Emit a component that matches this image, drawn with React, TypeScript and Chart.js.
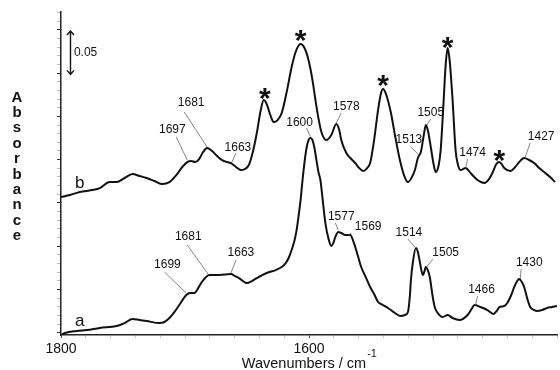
import React, { useEffect, useRef } from 'react';
import { Chart, registerables } from 'chart.js';

Chart.register(...registerables);

const FONT = '"Liberation Sans", Arial, Helvetica, sans-serif';

// ---- axis ranges / ticks ----
const xMin = 1400;
const xMax = 1800;
const xStep = 20;
const xLabeled = [1800, 1600];
const yMin = -0.0025;
const yMax = 0.3705;
const yStep = 0.01;
const yMajor = 0.05;

// ---- spectrum b (upper) ----
const bWn = [1800.0, 1792.8, 1784.8, 1775.2, 1768.7, 1760.7, 1755.1, 1748.7, 1742.3, 1736.7, 1731.1, 1724.6, 1718.2, 1712.6, 1707.0, 1702.2, 1698.2, 1695.0, 1691.8, 1688.6, 1685.4, 1682.2, 1678.2, 1674.1, 1670.1, 1666.1, 1662.9, 1658.9, 1654.9, 1651.7, 1648.5, 1645.3, 1642.1, 1638.9, 1636.5, 1634.1, 1630.9, 1628.5, 1625.3, 1622.0, 1618.0, 1614.0, 1610.8, 1606.8, 1603.6, 1600.4, 1597.2, 1594.8, 1592.4, 1590.0, 1586.0, 1582.0, 1578.0, 1575.6, 1574.0, 1569.9, 1566.7, 1562.7, 1559.5, 1556.3, 1553.1, 1550.7, 1547.5, 1544.3, 1541.9, 1540.3, 1537.9, 1533.9, 1530.7, 1526.7, 1523.4, 1520.2, 1517.0, 1514.6, 1512.2, 1509.8, 1507.4, 1505.8, 1504.2, 1501.8, 1499.4, 1497.8, 1495.4, 1493.8, 1491.4, 1489.8, 1488.2, 1486.6, 1484.2, 1481.8, 1480.2, 1477.8, 1473.7, 1469.7, 1464.1, 1458.5, 1455.3, 1452.1, 1448.9, 1446.5, 1444.1, 1442.5, 1437.7, 1433.7, 1430.5, 1426.5, 1422.4, 1418.4, 1414.4, 1410.4, 1405.6, 1401.6];
const bAbs = [0.1568, 0.1591, 0.1626, 0.1649, 0.1672, 0.1741, 0.1741, 0.1788, 0.1834, 0.1811, 0.1788, 0.1753, 0.1718, 0.1741, 0.1822, 0.1915, 0.1972, 0.1984, 0.1972, 0.2007, 0.2088, 0.2134, 0.2099, 0.2042, 0.1995, 0.1972, 0.1961, 0.1915, 0.1880, 0.1892, 0.1938, 0.2088, 0.2307, 0.2573, 0.2688, 0.2642, 0.2504, 0.2434, 0.2457, 0.2538, 0.2781, 0.3069, 0.3243, 0.3335, 0.3289, 0.3150, 0.2919, 0.2688, 0.2480, 0.2319, 0.2226, 0.2284, 0.2411, 0.2342, 0.2226, 0.2076, 0.2019, 0.1961, 0.1903, 0.1869, 0.1903, 0.1961, 0.2226, 0.2573, 0.2769, 0.2816, 0.2758, 0.2538, 0.2284, 0.1995, 0.1822, 0.1741, 0.1799, 0.1880, 0.2019, 0.2088, 0.2284, 0.2400, 0.2342, 0.2146, 0.1938, 0.1857, 0.1938, 0.2111, 0.2688, 0.3092, 0.3289, 0.3150, 0.2688, 0.2111, 0.1961, 0.1880, 0.1903, 0.1845, 0.1765, 0.1730, 0.1765, 0.1845, 0.1949, 0.1972, 0.1938, 0.1903, 0.1869, 0.1915, 0.1972, 0.2019, 0.1995, 0.1961, 0.1903, 0.1857, 0.1799, 0.1741];

// ---- spectrum a (lower) ----
const aWn = [1800.0, 1796.8, 1787.2, 1779.2, 1768.7, 1755.1, 1748.7, 1742.3, 1736.7, 1731.1, 1720.6, 1716.6, 1712.6, 1708.6, 1704.6, 1699.0, 1695.8, 1692.6, 1687.0, 1683.8, 1680.6, 1672.5, 1662.9, 1659.7, 1656.5, 1650.1, 1646.1, 1642.1, 1634.1, 1626.9, 1622.0, 1618.8, 1616.4, 1614.0, 1611.6, 1610.0, 1608.4, 1606.8, 1605.2, 1603.6, 1602.0, 1600.4, 1598.8, 1597.2, 1595.6, 1594.0, 1592.4, 1590.8, 1589.2, 1586.8, 1584.4, 1582.0, 1580.4, 1578.8, 1576.4, 1574.0, 1570.7, 1568.3, 1566.7, 1564.3, 1562.7, 1560.3, 1557.9, 1553.9, 1550.7, 1547.5, 1544.3, 1540.3, 1536.3, 1530.7, 1525.9, 1522.6, 1520.2, 1518.6, 1517.8, 1516.2, 1513.8, 1512.2, 1510.6, 1508.2, 1506.6, 1505.8, 1504.2, 1502.6, 1500.2, 1498.6, 1496.2, 1492.2, 1488.2, 1484.2, 1478.6, 1472.1, 1468.9, 1466.5, 1461.7, 1456.1, 1451.3, 1448.1, 1446.5, 1442.5, 1440.1, 1436.9, 1434.5, 1432.1, 1430.5, 1428.9, 1426.5, 1424.1, 1421.6, 1418.4, 1416.0, 1412.0, 1408.0, 1404.0, 1400.0];
const aAbs = [-0.0025, -0.0002, 0.0021, 0.0032, 0.0056, 0.0079, 0.0113, 0.0160, 0.0148, 0.0137, 0.0113, 0.0125, 0.0171, 0.0240, 0.0321, 0.0437, 0.0460, 0.0460, 0.0575, 0.0633, 0.0668, 0.0668, 0.0679, 0.0656, 0.0633, 0.0575, 0.0598, 0.0633, 0.0691, 0.0725, 0.0760, 0.0806, 0.0864, 0.0956, 0.1072, 0.1187, 0.1349, 0.1533, 0.1765, 0.1972, 0.2134, 0.2226, 0.2249, 0.2226, 0.2134, 0.1995, 0.1857, 0.1765, 0.1568, 0.1268, 0.1095, 0.1002, 0.1037, 0.1106, 0.1164, 0.1153, 0.1130, 0.1130, 0.1130, 0.1060, 0.0991, 0.0875, 0.0760, 0.0633, 0.0529, 0.0448, 0.0356, 0.0321, 0.0287, 0.0229, 0.0194, 0.0206, 0.0240, 0.0437, 0.0610, 0.0818, 0.0979, 0.0933, 0.0818, 0.0668, 0.0725, 0.0760, 0.0725, 0.0645, 0.0414, 0.0298, 0.0229, 0.0183, 0.0206, 0.0171, 0.0148, 0.0206, 0.0275, 0.0321, 0.0298, 0.0263, 0.0217, 0.0263, 0.0298, 0.0310, 0.0344, 0.0437, 0.0529, 0.0598, 0.0621, 0.0598, 0.0529, 0.0402, 0.0298, 0.0263, 0.0252, 0.0263, 0.0287, 0.0298, 0.0310];

// ---- peak annotations (text anchor and leader line, in wavenumber / absorbance) ----
const peakLabels = ['1697', '1681', '1663', '1578', '1513', '1505', '1474', '1427', '1699', '1681', '1663', '1600', '1577', '1569', '1514', '1505', '1466', '1430'];
const peakTextWn = [1710.2, 1695.0, 1657.3, 1569.9, 1519.4, 1501.8, 1468.1, 1412.8, 1714.2, 1697.4, 1654.9, 1607.6, 1574.0, 1552.3, 1519.4, 1489.8, 1460.9, 1422.4];
const peakTextAbs = [0.2342, 0.2654, 0.2134, 0.2607, 0.2226, 0.2538, 0.2076, 0.2261, 0.0783, 0.1106, 0.0922, 0.2423, 0.1337, 0.1222, 0.1153, 0.0922, 0.0494, 0.0806];
const leaderFromWn = [1707.0, 1700.6, 1658.9, 1574.0, 1517.8, 1501.8, 1472.1, 1421.6, 1716.6, 1698.2, 1658.9, 1602.0, 1578.8, 1565.9, 1520.2, 1500.2, 1464.1, 1428.9];
const leaderFromAbs = [0.2261, 0.2550, 0.2076, 0.2538, 0.2146, 0.2469, 0.2007, 0.2192, 0.0702, 0.1014, 0.0841, 0.2365, 0.1268, 0.1153, 0.1083, 0.0852, 0.0425, 0.0737];
const leaderToWn = [1698.2, 1682.2, 1662.1, 1578.0, 1511.4, 1505.0, 1473.7, 1425.7, 1699.0, 1681.4, 1662.9, 1598.8, 1576.4, 1568.3, 1513.8, 1505.0, 1465.7, 1429.7];
const leaderToAbs = [0.1995, 0.2146, 0.1972, 0.2423, 0.2053, 0.2400, 0.1903, 0.2030, 0.0460, 0.0679, 0.0691, 0.2261, 0.1187, 0.1130, 0.0979, 0.0760, 0.0321, 0.0621];

// ---- asterisks marking bands of b ----
const starWn = [1635.7, 1606.8, 1540.3, 1488.2, 1446.5];
const starAbs = [0.2769, 0.3439, 0.2919, 0.3358, 0.2053];

// ---- trace labels ----
const traceNames = ['b', 'a'];
const traceNameWn = [1784.8, 1784.8];
const traceNameAbs = [0.1730, 0.0136];

// ---- scale bar ----
const barLabel = '0.05';
const barWn = 1792.8;
const barAbsLow = 0.2985;
const barAbsHigh = 0.3485;
const barLabelWn = 1789.6;

const yTitle = 'Absorbance';
const xTitle = 'Wavenumbers / cm';
const xTitleSup = '-1';

const overlayPlugin = {
  id: 'overlay',
  afterDatasetsDraw(chart: any) {
    const ctx = chart.ctx as CanvasRenderingContext2D;
    const xs = chart.scales.x;
    const ys = chart.scales.y;
    const px = (v: number) => xs.getPixelForValue(v);
    const py = (v: number) => ys.getPixelForValue(v);
    ctx.save();

    // leader lines
    ctx.strokeStyle = '#666';
    ctx.lineWidth = 0.8;
    for (let i = 0; i < peakLabels.length; i++) {
      ctx.beginPath();
      ctx.moveTo(px(leaderFromWn[i]), py(leaderFromAbs[i]));
      ctx.lineTo(px(leaderToWn[i]), py(leaderToAbs[i]));
      ctx.stroke();
    }

    // peak labels
    ctx.fillStyle = '#111';
    ctx.font = `12px ${FONT}`;
    ctx.textAlign = 'center';
    ctx.textBaseline = 'middle';
    for (let i = 0; i < peakLabels.length; i++) {
      ctx.fillText(peakLabels[i], px(peakTextWn[i]), py(peakTextAbs[i]));
    }

    // asterisks
    ctx.font = `bold 30px ${FONT}`;
    for (let i = 0; i < starWn.length; i++) {
      ctx.fillText('*', px(starWn[i]), py(starAbs[i]) + 7);
    }

    // trace names
    ctx.font = `17px ${FONT}`;
    for (let i = 0; i < traceNames.length; i++) {
      ctx.fillText(traceNames[i], px(traceNameWn[i]), py(traceNameAbs[i]));
    }

    // scale bar
    const bx = Math.round(px(barWn)) + 0.5;
    const y1 = py(barAbsHigh);
    const y2 = py(barAbsLow);
    ctx.strokeStyle = '#111';
    ctx.lineWidth = 1.4;
    ctx.beginPath();
    ctx.moveTo(bx, y1);
    ctx.lineTo(bx, y2);
    ctx.moveTo(bx - 3.5, y1 + 4);
    ctx.lineTo(bx, y1);
    ctx.lineTo(bx + 3.5, y1 + 4);
    ctx.moveTo(bx - 3.5, y2 - 4);
    ctx.lineTo(bx, y2);
    ctx.lineTo(bx + 3.5, y2 - 4);
    ctx.stroke();
    ctx.font = `12px ${FONT}`;
    ctx.textAlign = 'left';
    ctx.fillText(barLabel, px(barLabelWn), (y1 + y2) / 2);

    ctx.restore();
  },
  afterDraw(chart: any) {
    const ctx = chart.ctx as CanvasRenderingContext2D;
    const area = chart.chartArea;
    ctx.save();
    ctx.fillStyle = '#111';
    // vertical stacked y title
    ctx.font = `bold 15px ${FONT}`;
    ctx.textAlign = 'center';
    ctx.textBaseline = 'alphabetic';
    const letters = yTitle.split('');
    const step = 15.35;
    const mid = (area.top + area.bottom) / 2 - 0.5 * step;
    const start = mid - ((letters.length - 1) / 2) * step + 5;
    letters.forEach((ch, i) => ctx.fillText(ch, 17, start + i * step));

    // x title with superscript
    ctx.font = `14.5px ${FONT}`;
    const w = ctx.measureText(xTitle).width;
    const cx = (area.left + area.right) / 2 - 5;
    const base = chart.height - 2;
    ctx.textAlign = 'left';
    ctx.fillText(xTitle, cx - w / 2, base);
    ctx.font = `11px ${FONT}`;
    ctx.fillText(xTitleSup, cx + w / 2 + 1, base - 11);
    ctx.restore();
  },
};

export default function App() {
  const ref = useRef<HTMLCanvasElement | null>(null);
  useEffect(() => {
    if (!ref.current) return;
    const chart = new Chart(ref.current, {
      type: 'line',
      data: {
        datasets: [
          {
            label: 'b',
            data: bWn.map((x, i) => ({ x, y: bAbs[i] })),
            borderColor: '#111',
            borderWidth: 2,
            pointRadius: 0,
            fill: false,
            cubicInterpolationMode: 'monotone',
          },
          {
            label: 'a',
            data: aWn.map((x, i) => ({ x, y: aAbs[i] })),
            borderColor: '#111',
            borderWidth: 2,
            pointRadius: 0,
            fill: false,
            cubicInterpolationMode: 'monotone',
          },
        ],
      },
      options: {
        responsive: false,
        animation: false,
        devicePixelRatio: 1,
        events: [],
        layout: { padding: { top: 12, left: 0, right: 0, bottom: 0 } },
        plugins: { legend: { display: false }, tooltip: { enabled: false } },
        scales: {
          x: {
            type: 'linear',
            reverse: true,
            min: xMin,
            max: xMax,
            afterFit: (s: any) => {
              s.height = 35;
            },
            ticks: {
              stepSize: xStep,
              autoSkip: false,
              maxRotation: 0,
              minRotation: 0,
              padding: 3,
              color: '#111',
              font: { family: FONT, size: 14 },
              callback: (v: any) => (xLabeled.includes(Number(v)) ? String(v) : ''),
            },
            grid: {
              drawOnChartArea: false,
              drawTicks: true,
              tickLength: 3,
              tickColor: (c: any) => (c.tick && xLabeled.includes(c.tick.value) ? '#444' : '#c8c8c8'),
            },
            border: { display: true, color: '#222', width: 1.5 },
          },
          y: {
            type: 'linear',
            min: yMin,
            max: yMax,
            afterFit: (s: any) => {
              s.width = 61;
            },
            afterBuildTicks: (s: any) => {
              const out: any[] = [];
              const i0 = Math.ceil(s.min / yStep - 1e-9);
              const i1 = Math.floor(s.max / yStep + 1e-9);
              for (let i = i0; i <= i1; i++) out.push({ value: +(i * yStep).toFixed(4) });
              s.ticks = out;
            },
            ticks: { display: false },
            grid: {
              drawOnChartArea: false,
              drawTicks: true,
              tickLength: 4,
              tickColor: (c: any) => {
                const v = c.tick ? c.tick.value : 0;
                const r = v / yMajor;
                return Math.abs(r - Math.round(r)) < 1e-6 ? '#333' : '#bbb';
              },
            },
            border: { display: true, color: '#222', width: 1.5 },
          },
        },
      },
      plugins: [overlayPlugin],
    } as any);
    return () => chart.destroy();
  }, []);

  return (
    <div style={{ position: 'absolute', left: 0, top: 0, width: 560, height: 370, background: '#fff' }}>
      <canvas ref={ref} width={560} height={370} style={{ display: 'block', width: 560, height: 370 }} />
    </div>
  );
}
